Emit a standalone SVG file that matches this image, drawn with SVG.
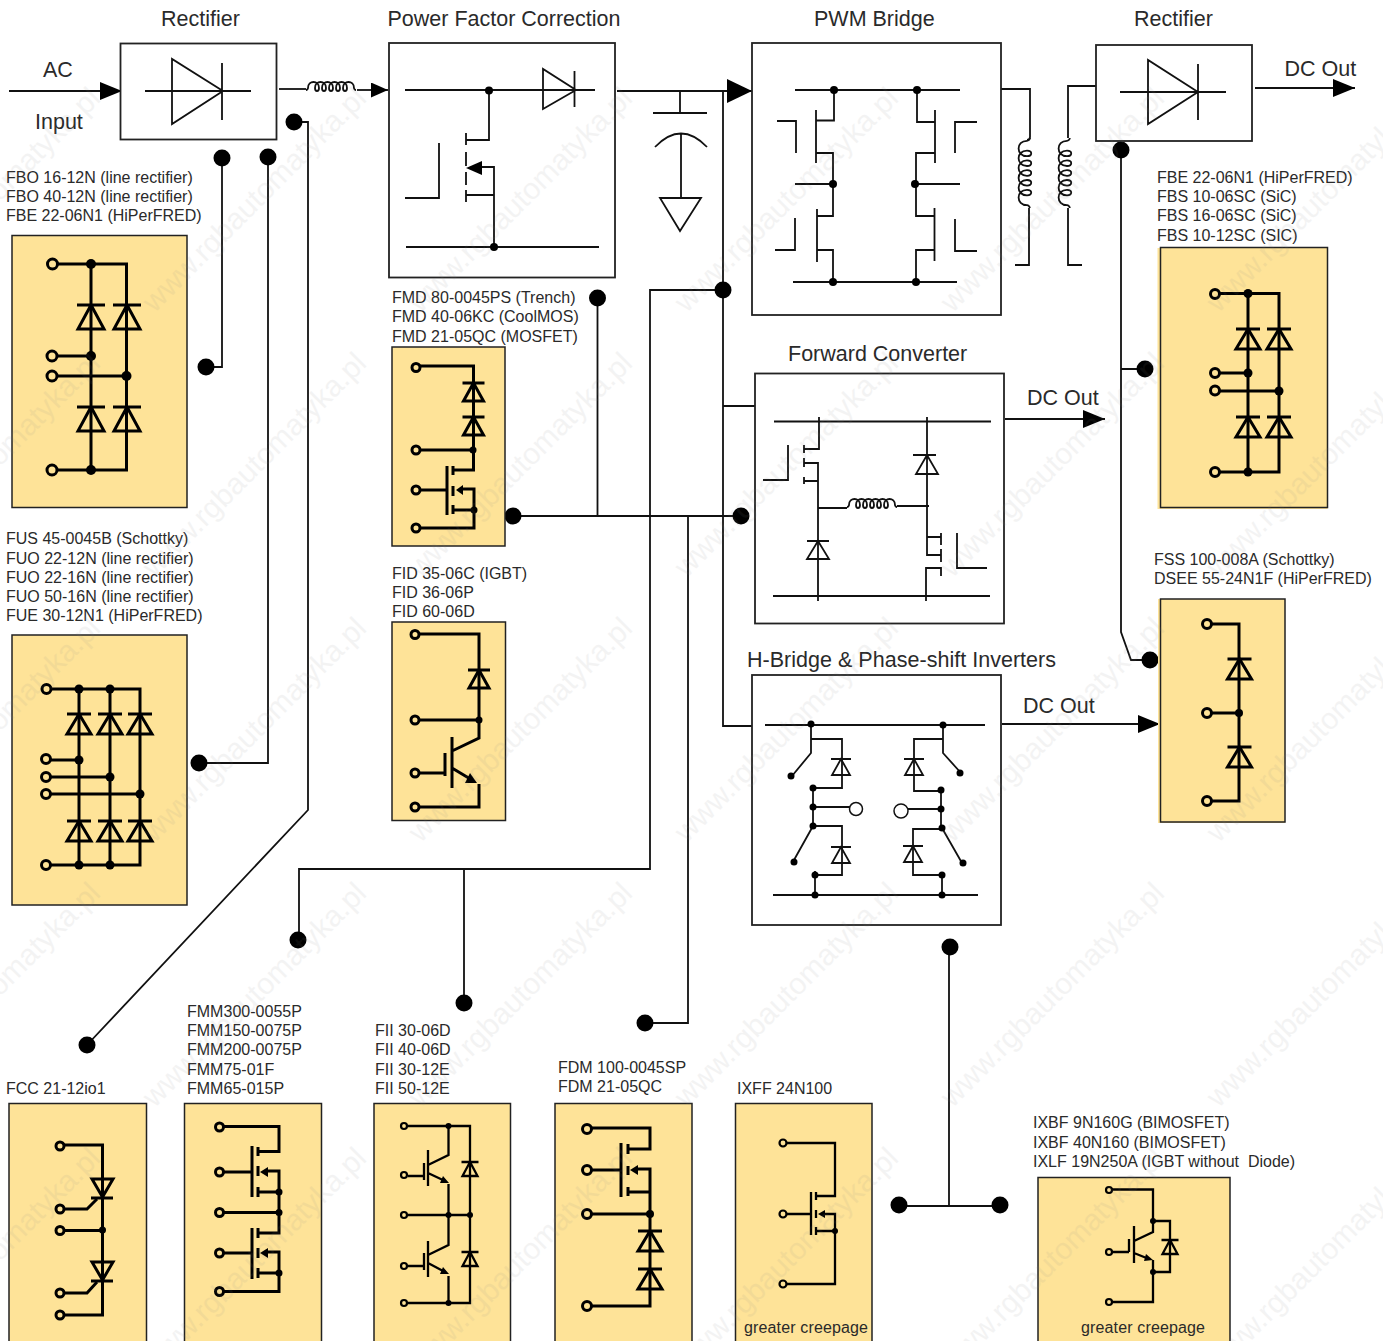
<svg xmlns="http://www.w3.org/2000/svg" width="1383" height="1341" viewBox="0 0 1383 1341">
<style>
text{font-family:"Liberation Sans",Arial,sans-serif;fill:#2a2a2a}
.h{font-size:21.5px}
.s{font-size:16px}
.wm{font-size:30px;fill:#888;opacity:.09;text-anchor:end}
.w{fill:none;stroke:#111;stroke-width:1.8;stroke-linejoin:miter}
.b{fill:#fff;stroke:#222;stroke-width:1.8}
.m{fill:#fee398;stroke:#222;stroke-width:1.5}
.k{fill:none;stroke:#000;stroke-width:3;stroke-linejoin:miter}
.k2{fill:none;stroke:#000;stroke-width:2.3}
.t{fill:#fee398;stroke:#000;stroke-width:3}
.t2{fill:#fee398;stroke:#000;stroke-width:2.2}
.f{fill:#000;stroke:none}
</style>
<defs>
<marker id="arr" markerUnits="userSpaceOnUse" markerWidth="22" markerHeight="18" refX="22" refY="9" orient="auto"><path d="M0,0L22,9L0,18Z" fill="#000"/></marker>
<marker id="arrS" markerUnits="userSpaceOnUse" markerWidth="17" markerHeight="15" refX="17" refY="7.500" orient="auto"><path d="M0,0L17,7.500L0,15Z" fill="#000"/></marker>
<marker id="arrL" markerUnits="userSpaceOnUse" markerWidth="25" markerHeight="24" refX="25" refY="12" orient="auto"><path d="M0,0L25,12L0,24Z" fill="#000"/></marker>
<path id="d14" d="M-14,0H14M0,0L-13,24H13Z"/>
<path id="d12" d="M-12,0H12M0,0L-12,20H12Z"/>
<path id="d11" d="M-11,0H11M0,0L-10,18H10Z"/>
<path id="d9" d="M-10,0H10M0,0L-9,16H9Z"/>
<path id="d8" d="M-8.500,0H8.500M0,0L-7.500,14H7.500Z"/>
<path id="coil" d="M0,2c1,0 2,-1 2,-2c0,-8 11,-8 11,0c0,4 -4,4 -4,0c0,-8 11,-8 11,0c0,4 -4,4 -4,0c0,-8 11,-8 11,0c0,4 -4,4 -4,0c0,-8 11,-8 11,0c0,4 -4,4 -4,0c0,-8 11,-8 11,0c0,4 -4,4 -4,0c0,-8 11,-8 11,0c0,1 1,2 2,2"/>
</defs>

<g id="connectors">
<path class="w" d="M9,91H122" marker-end="url(#arr)"/>
<path class="w" d="M279,89H306"/>
<use href="#coil" class="w" x="306" y="88"/>
<path class="w" d="M357,90H388" marker-end="url(#arrS)"/>
<path class="w" d="M294,122H308V810L87,1045"/>
<path class="w" d="M222,158V367H206"/>
<path class="w" d="M268,157V763H199"/>
<path class="w" d="M617,91H752" marker-end="url(#arrL)"/>
<path class="w" d="M723,91V726H752M723,406H755"/>
<path class="w" d="M680,91V113M653,113H707M655,147Q681,120 707,147M681,134V198M660,198H701L680,231Z"/>
<path class="w" d="M723,290H650V869H299V940M464,869V1003"/>
<path class="w" d="M513,516H741M597.500,298V516M688,516V1023H645"/>
<path class="w" d="M1001,89H1030V137Q1030,140 1027,140M1029,208V265H1015"/>
<use href="#coil" class="w" transform="translate(1027,138) rotate(90) scale(1.4,-1.400)" style="stroke-width:1.300"/>
<path class="w" d="M1096,86H1068V138M1068,208V265H1082"/>
<use href="#coil" class="w" transform="translate(1067,138) rotate(90) scale(1.4,-1.400)" style="stroke-width:1.300"/>
<path class="w" d="M1255,88H1355" marker-end="url(#arr)"/>
<path class="w" d="M1005,419H1105" marker-end="url(#arr)"/>
<path class="w" d="M1002,724H1160" marker-end="url(#arr)"/>
<path class="w" d="M1121,150V632L1131,660H1150M1121,369H1145"/>
<path class="w" d="M949,947V1206M899,1206H1001"/>
<g class="f">
<circle cx="294" cy="122" r="8.500"/><circle cx="222" cy="158" r="8.500"/><circle cx="268" cy="157" r="8.500"/>
<circle cx="206" cy="367" r="8.500"/><circle cx="199" cy="763" r="8.500"/><circle cx="87" cy="1045" r="8.500"/>
<circle cx="723" cy="290" r="8.500"/><circle cx="597.500" cy="298" r="8.500"/><circle cx="513" cy="516" r="8.500"/>
<circle cx="741" cy="516" r="8.500"/><circle cx="298" cy="940" r="8.500"/><circle cx="464" cy="1003" r="8.500"/>
<circle cx="645" cy="1023" r="8.500"/><circle cx="1121" cy="150" r="8.500"/><circle cx="1145" cy="369" r="8.500"/>
<circle cx="1150" cy="660" r="8.500"/><circle cx="950" cy="947" r="8.500"/><circle cx="899" cy="1205" r="8.500"/><circle cx="1000" cy="1205" r="8.500"/>
</g>
</g>

<g id="input-labels"><text class="h" x="43" y="77">AC</text><text class="h" x="35" y="129">Input</text></g>

<g id="rectifier-in">
<text class="h" x="161" y="26">Rectifier</text>
<rect class="b" x="120.500" y="43.500" width="156" height="96"/>
<path class="w" d="M145,91H251M222,63V120M172,59V124L223,91Z"/>
</g>

<g id="pfc">
<text class="h" x="387.500" y="26">Power Factor Correction</text>
<rect class="b" x="389" y="43" width="226" height="234.500"/>
<path class="w" d="M405,90H595M489,90V140H466M466,133V145M466,152V166M466,172V185M466,190V202M543,69V109L576,90ZM574.500,71V107"/>
<path class="w" d="M482,167H494V247M466,195H494M406,247H599M405,198H439V143"/>
<path class="f" d="M466,168L482,161V175Z"/>
<circle class="f" cx="489" cy="90.500" r="4"/><circle class="f" cx="494" cy="247" r="4"/>
</g>

<g id="pwm-bridge">
<text class="h" x="814" y="26">PWM Bridge</text>
<rect class="b" x="752" y="43" width="249" height="272"/>
<path class="w" d="M795,90H960M834,90V120.500H816M816,110V163M816,153H833V216H817M817,209V262M817,250H833V282M795,184H833M777,121H796V153M775,250H795V218M793,282H957"/>
<path class="w" d="M917,90V122H935M935,110V163M935,153H916V216H934.500M934.500,208V261M934.500,250H916V282M915,184H960M977,122H955V153M977,251H955V219"/>
<g class="f"><circle cx="834" cy="90" r="4"/><circle cx="917" cy="90" r="4"/><circle cx="833" cy="184" r="4"/><circle cx="915" cy="184" r="4"/><circle cx="833" cy="282" r="4"/><circle cx="916" cy="282" r="4"/></g>
</g>

<g id="rectifier-out">
<text class="h" x="1134" y="26">Rectifier</text>
<rect class="b" x="1096" y="45" width="156" height="96"/>
<path class="w" d="M1120,92H1226M1198,64V120M1148,60V124L1198,92Z"/>
<text class="h" x="1284.500" y="76">DC Out</text>
</g>

<g id="forward-converter">
<text class="h" x="788" y="361">Forward Converter</text>
<rect class="b" x="755" y="373.500" width="249" height="250"/>
<path class="w" d="M774,421.500H991M773,596H990M819,417V449H804M804,445V453M804,458V467M804,463H818V601M804,477V484M804,481H818M763,480H788V445M818,508H847M897,506H929"/>
<use href="#coil" class="w" x="847" y="505"/>
<path class="w" d="M807,559H829L818,541ZM807,541H829M927,417V537H941M913,455H936M916,474H938L927,455ZM941,533V545M927,537V555H941M941,549V562M941,568H926V601M941,567V576M957,533V568H987"/>
<text class="h" x="1027" y="405">DC Out</text>
</g>

<g id="h-bridge">
<text class="h" x="747" y="667" textLength="309">H-Bridge &amp; Phase-shift Inverters</text>
<rect class="b" x="752" y="675" width="249" height="250"/>
<path class="w" d="M765,725H985M773,895H978"/>
<path class="w" d="M811,724V753L792,776M811,739H842V788H813M813,785V826M813,807H850M813,826L794,860M813,826H842V875H815M815,871V895"/>
<path class="w" d="M943,725V753L961,773M943,739H914V791H941M941,787V828M941,809H908M942,828L962,863M942,829H913V875H942V895"/>
<use href="#d9" class="w" x="841" y="759"/><use href="#d9" class="w" x="841" y="847"/><use href="#d9" class="w" x="914" y="759"/><use href="#d9" class="w" x="913" y="846"/>
<g class="f"><circle cx="811" cy="724" r="3.500"/><circle cx="943" cy="725" r="3.500"/><circle cx="791" cy="776" r="3.500"/><circle cx="813" cy="788" r="3.500"/><circle cx="813" cy="807" r="3.500"/><circle cx="813" cy="826" r="3.500"/><circle cx="794" cy="862" r="3.500"/><circle cx="815" cy="875" r="3.500"/><circle cx="815" cy="895" r="3.500"/><circle cx="960" cy="773" r="3.500"/><circle cx="941" cy="790" r="3.500"/><circle cx="941" cy="809" r="3.500"/><circle cx="942" cy="828" r="3.500"/><circle cx="963" cy="863" r="3.500"/><circle cx="942" cy="875" r="3.500"/><circle cx="942" cy="895" r="3.500"/></g>
<circle cx="856" cy="809" r="6.500" fill="#fff" stroke="#111" stroke-width="1.500"/><circle cx="901" cy="811" r="7" fill="#fff" stroke="#111" stroke-width="1.500"/>
<text class="h" x="1023" y="713">DC Out</text>
</g>

<g id="module-fbo">
<text class="s" x="6" y="183">FBO 16-12N (line rectifier)</text><text class="s" x="6" y="202">FBO 40-12N (line rectifier)</text><text class="s" x="6" y="221">FBE 22-06N1 (HiPerFRED)</text>
<rect class="m" x="12" y="235.500" width="175" height="272"/>
<path class="k" d="M57,264H126.500V470H57M91,264V470M57,356H91M57,376H126.500"/>
<use href="#d14" class="k" x="91" y="305"/><use href="#d14" class="k" x="127" y="305"/><use href="#d14" class="k" x="91" y="407"/><use href="#d14" class="k" x="127" y="407"/>
<g class="f"><circle cx="91" cy="264" r="5"/><circle cx="91" cy="356" r="5"/><circle cx="126.500" cy="376" r="5"/><circle cx="91" cy="470" r="5"/></g>
<g class="t"><circle cx="52.500" cy="264" r="5"/><circle cx="52" cy="356" r="5"/><circle cx="52" cy="376" r="5"/><circle cx="52" cy="470" r="5"/></g>
</g>

<g id="module-fus">
<text class="s" x="6" y="544">FUS 45-0045B (Schottky)</text><text class="s" x="6" y="564">FUO 22-12N (line rectifier)</text><text class="s" x="6" y="583">FUO 22-16N (line rectifier)</text><text class="s" x="6" y="602">FUO 50-16N (line rectifier)</text><text class="s" x="6" y="621">FUE 30-12N1 (HiPerFRED)</text>
<rect class="m" x="12" y="635" width="175" height="270"/>
<path class="k" d="M50,689H140V865H50M79,689V865M110,689V865M50,760H79M50,777H110M50,794H140"/>
<use href="#d12" class="k" x="79" y="714"/><use href="#d12" class="k" x="110" y="714"/><use href="#d12" class="k" x="140" y="714"/><use href="#d12" class="k" x="79" y="821"/><use href="#d12" class="k" x="110" y="821"/><use href="#d12" class="k" x="140" y="821"/>
<g class="f"><circle cx="79" cy="689" r="4.500"/><circle cx="110" cy="689" r="4.500"/><circle cx="79" cy="760" r="4.500"/><circle cx="110" cy="777" r="4.500"/><circle cx="140" cy="794" r="4.500"/><circle cx="79" cy="865" r="4.500"/><circle cx="110" cy="865" r="4.500"/></g>
<g class="t"><circle cx="46.500" cy="689" r="4.500"/><circle cx="46" cy="759" r="4.500"/><circle cx="46" cy="777" r="4.500"/><circle cx="46" cy="794" r="4.500"/><circle cx="46" cy="865" r="4.500"/></g>
</g>

<g id="module-fbe">
<text class="s" x="1157" y="183">FBE 22-06N1 (HiPerFRED)</text><text class="s" x="1157" y="202">FBS 10-06SC (SiC)</text><text class="s" x="1157" y="221">FBS 16-06SC (SiC)</text><text class="s" x="1157" y="241">FBS 10-12SC (SIC)</text>
<rect x="1157.500" y="248" width="170" height="261" fill="#fee398"/>
<rect class="m" style="fill:none" x="1160.500" y="247.500" width="167" height="260"/>
<path class="k" d="M1219,293.500H1279V472H1219M1248,293.500V472M1219,373H1248M1219,391H1279"/>
<use href="#d12" class="k" x="1248" y="329"/><use href="#d12" class="k" x="1279" y="329"/><use href="#d12" class="k" x="1248" y="417"/><use href="#d12" class="k" x="1279" y="417"/>
<g class="f"><circle cx="1248" cy="293.500" r="4.500"/><circle cx="1248" cy="373" r="4.500"/><circle cx="1279" cy="391" r="4.500"/><circle cx="1248" cy="472" r="4.500"/></g>
<g class="t"><circle cx="1215" cy="294" r="4.500"/><circle cx="1215" cy="373" r="4.500"/><circle cx="1215" cy="390.500" r="4.500"/><circle cx="1215" cy="472" r="4.500"/></g>
</g>

<g id="module-fss">
<text class="s" x="1154" y="565">FSS 100-008A (Schottky)</text><text class="s" x="1154" y="584">DSEE 55-24N1F (HiPerFRED)</text>
<rect x="1158" y="599" width="127" height="224" fill="#fee398"/>
<rect class="m" style="fill:none" x="1160.500" y="599" width="124.500" height="223"/>
<path class="k" d="M1211,624H1239V801H1211M1211,713H1239"/>
<use href="#d12" class="k" x="1239.500" y="659"/><use href="#d12" class="k" x="1239.500" y="747"/>
<circle class="f" cx="1239" cy="713" r="4"/>
<g class="t"><circle cx="1207" cy="624" r="4.500"/><circle cx="1207" cy="713" r="4.500"/><circle cx="1207" cy="801" r="4.500"/></g>
</g>

<g id="module-fmd">
<text class="s" x="392" y="303">FMD 80-0045PS (Trench)</text><text class="s" x="392" y="322">FMD 40-06KC (CoolMOS)</text><text class="s" x="392" y="342">FMD 21-05QC (MOSFET)</text>
<rect class="m" x="392" y="347" width="113" height="199"/>
<path class="k" d="M420,366H473.500V470H453M420,450H473.500M420,490H447M447,466V515M453,466V475M453,486V496M453,505V514M462,489H474V528H420M453,510H474"/>
<path class="f" d="M456,490L463,485V495Z"/>
<use href="#d11" class="k" x="473.500" y="383"/><use href="#d11" class="k" x="473.500" y="417"/>
<circle class="f" cx="473" cy="450" r="3.500"/><circle class="f" cx="474" cy="510" r="3.500"/>
<g class="t"><circle cx="416" cy="367.500" r="4"/><circle cx="416" cy="450" r="4"/><circle cx="416" cy="490" r="4"/><circle cx="416" cy="528" r="4"/></g>
</g>

<g id="module-fid">
<text class="s" x="392" y="579">FID 35-06C (IGBT)</text><text class="s" x="392" y="598">FID 36-06P</text><text class="s" x="392" y="617">FID 60-06D</text>
<rect class="m" x="392" y="622" width="113.500" height="198.500"/>
<path class="k" d="M419,634H479V738L452,751M419,720H479M452,737V788M445,753V776M419,773H445M452,768L472,780M479,784V807H419"/>
<path class="f" d="M477,783L465,783L470,773Z"/>
<use href="#d11" class="k" x="479" y="670"/>
<circle class="f" cx="479" cy="720" r="3.500"/>
<g class="t"><circle cx="415" cy="634.500" r="4"/><circle cx="415" cy="720" r="4"/><circle cx="415" cy="773" r="4"/><circle cx="415" cy="807" r="4"/></g>
</g>

<g id="module-fcc">
<text class="s" x="6" y="1094">FCC 21-12io1</text>
<rect class="m" x="9" y="1103.500" width="137.500" height="245"/>
<path class="k" d="M64,1145H102.500V1315H64M64,1230.500H102M64,1209H87L97,1199M64,1293H87L97,1282"/>
<path class="k" d="M92,1179H113L102.500,1197ZM91,1198H113M92,1262H113L102.500,1280ZM91,1281H113"/>
<circle class="f" cx="102.500" cy="1230" r="3.500"/>
<g class="t"><circle cx="60" cy="1146" r="4"/><circle cx="60" cy="1209" r="4"/><circle cx="60" cy="1230.500" r="4"/><circle cx="60" cy="1293" r="4"/><circle cx="60" cy="1315" r="4"/></g>
</g>

<g id="module-fmm">
<text class="s" x="187" y="1017" style="word-spacing:-4.300px">FMM 300-0055P</text><text class="s" x="187" y="1036" style="word-spacing:-4.300px">FMM 150-0075P</text><text class="s" x="187" y="1055" style="word-spacing:-4.300px">FMM 200-0075P</text><text class="s" x="187" y="1075" style="word-spacing:-4.300px">FMM 75-01F</text><text class="s" x="187" y="1094" style="word-spacing:-4.300px">FMM 65-015P</text>
<rect class="m" x="184.500" y="1103.500" width="137" height="245"/>
<path class="k" d="M223,1126.500H279V1151.500H258M258,1147V1156M252,1146V1197M223,1172H252M258,1166V1176M268,1171H279V1233H258M258,1187V1197M258,1192H279M223,1212.500H279M252,1228V1279M258,1228V1238M223,1253H252M258,1248V1258M268,1252H279V1291.500H223M258,1273H279M258,1268V1278"/>
<path class="f" d="M260,1172L268,1167V1177ZM260,1253L268,1248V1258Z"/>
<g class="f"><circle cx="279" cy="1192" r="3.500"/><circle cx="279" cy="1212.500" r="3.500"/><circle cx="279" cy="1273" r="3.500"/></g>
<g class="t"><circle cx="219.500" cy="1127" r="4"/><circle cx="219.500" cy="1172" r="4"/><circle cx="219.500" cy="1212.500" r="4"/><circle cx="219.500" cy="1253" r="4"/><circle cx="219.500" cy="1291.500" r="4"/></g>
</g>

<g id="module-fii">
<text class="s" x="375" y="1036">FII 30-06D</text><text class="s" x="375" y="1055">FII 40-06D</text><text class="s" x="375" y="1075">FII 30-12E</text><text class="s" x="375" y="1094">FII 50-12E</text>
<rect class="m" x="374" y="1103.500" width="136.500" height="245"/>
<path class="k2" d="M408,1126H470V1303H408M408,1215H470M448.500,1126V1155L428,1165M428,1150V1186M424,1163V1180M408,1176H424M428,1173L445,1181M448.500,1184V1245L428,1255M428,1241V1277M424,1253V1270M408,1266H424M428,1263L445,1272M448.500,1276V1303"/>
<path class="f" d="M449,1183L440,1183L443,1176ZM449,1274L440,1274L443,1267Z"/>
<use href="#d8" class="k2" x="470" y="1162"/><use href="#d8" class="k2" x="470" y="1252"/>
<g class="f"><circle cx="448.500" cy="1126" r="3"/><circle cx="448.500" cy="1215" r="3"/><circle cx="470" cy="1215" r="3"/><circle cx="448.500" cy="1303" r="3"/></g>
<g class="t2"><circle cx="404" cy="1126" r="3"/><circle cx="404" cy="1175" r="3"/><circle cx="404" cy="1215" r="3"/><circle cx="404" cy="1266" r="3"/><circle cx="404" cy="1303" r="3"/></g>
</g>

<g id="module-fdm">
<text class="s" x="558" y="1073">FDM 100-0045SP</text><text class="s" x="558" y="1092">FDM 21-05QC</text>
<rect class="m" x="555" y="1103.500" width="137" height="245"/>
<path class="k" d="M591,1128H650V1149H628M628,1144V1154M621,1143V1197M591,1170H621M628,1166V1175M638,1169H650V1306H591M628,1192H650M628,1187V1196M591,1214H650"/>
<path class="f" d="M630,1170L638,1165V1175Z"/>
<use href="#d12" class="k" x="650" y="1231"/><use href="#d12" class="k" x="650" y="1269"/>
<circle class="f" cx="650" cy="1214" r="4"/>
<g class="t"><circle cx="587" cy="1129" r="4.500"/><circle cx="587" cy="1170" r="4.500"/><circle cx="587" cy="1214" r="4.500"/><circle cx="587" cy="1306" r="4.500"/></g>
</g>

<g id="module-ixff">
<text class="s" x="737" y="1094">IXFF 24N100</text>
<rect class="m" x="735.500" y="1103.500" width="136.500" height="245"/>
<path class="k2" d="M787,1143H835V1196H816M816,1192V1200M811,1192V1235M787,1214H811M816,1210V1218M825,1214H835V1284H787M816,1231H835M816,1227V1235"/>
<path class="f" d="M818,1214L825,1210V1218Z"/>
<circle class="f" cx="835" cy="1231" r="3"/>
<g class="t2"><circle cx="783" cy="1143" r="3.500"/><circle cx="783" cy="1214" r="3.500"/><circle cx="783" cy="1284" r="3.500"/></g>
<text class="s" x="744" y="1333" textLength="124">greater creepage</text>
</g>

<g id="module-ixbf">
<text class="s" x="1033" y="1128">IXBF 9N160G (BIMOSFET)</text><text class="s" x="1033" y="1148">IXBF 40N160 (BIMOSFET)</text><text class="s" x="1033" y="1167" xml:space="preserve">IXLF 19N250A (IGBT without  Diode)</text>
<rect class="m" x="1038" y="1177.500" width="192" height="171"/>
<path class="k2" d="M1112,1189.500H1153V1232L1134,1241M1153,1221H1170V1272H1153M1134,1226V1263M1129,1239V1252M1112,1252H1129M1134,1253L1149,1259M1153,1260V1302H1112"/>
<path class="f" d="M1153,1260L1144,1261L1146,1254Z"/>
<use href="#d8" class="k2" x="1170" y="1240"/>
<circle class="f" cx="1153" cy="1221" r="3"/><circle class="f" cx="1153" cy="1272" r="3"/>
<g class="t2"><circle cx="1109" cy="1190" r="3"/><circle cx="1109" cy="1252" r="3"/><circle cx="1109" cy="1302" r="3"/></g>
<text class="s" x="1081" y="1333" textLength="124">greater creepage</text>
</g>

<g id="watermark">
<text class="wm" transform="translate(102,100) rotate(-45)">www.rgbautomatyka.pl</text>
<text class="wm" transform="translate(368,100) rotate(-45)">www.rgbautomatyka.pl</text>
<text class="wm" transform="translate(634,100) rotate(-45)">www.rgbautomatyka.pl</text>
<text class="wm" transform="translate(900,100) rotate(-45)">www.rgbautomatyka.pl</text>
<text class="wm" transform="translate(1166,100) rotate(-45)">www.rgbautomatyka.pl</text>
<text class="wm" transform="translate(1432,100) rotate(-45)">www.rgbautomatyka.pl</text>
<text class="wm" transform="translate(102,365) rotate(-45)">www.rgbautomatyka.pl</text>
<text class="wm" transform="translate(368,365) rotate(-45)">www.rgbautomatyka.pl</text>
<text class="wm" transform="translate(634,365) rotate(-45)">www.rgbautomatyka.pl</text>
<text class="wm" transform="translate(900,365) rotate(-45)">www.rgbautomatyka.pl</text>
<text class="wm" transform="translate(1166,365) rotate(-45)">www.rgbautomatyka.pl</text>
<text class="wm" transform="translate(1432,365) rotate(-45)">www.rgbautomatyka.pl</text>
<text class="wm" transform="translate(102,630) rotate(-45)">www.rgbautomatyka.pl</text>
<text class="wm" transform="translate(368,630) rotate(-45)">www.rgbautomatyka.pl</text>
<text class="wm" transform="translate(634,630) rotate(-45)">www.rgbautomatyka.pl</text>
<text class="wm" transform="translate(900,630) rotate(-45)">www.rgbautomatyka.pl</text>
<text class="wm" transform="translate(1166,630) rotate(-45)">www.rgbautomatyka.pl</text>
<text class="wm" transform="translate(1432,630) rotate(-45)">www.rgbautomatyka.pl</text>
<text class="wm" transform="translate(102,895) rotate(-45)">www.rgbautomatyka.pl</text>
<text class="wm" transform="translate(368,895) rotate(-45)">www.rgbautomatyka.pl</text>
<text class="wm" transform="translate(634,895) rotate(-45)">www.rgbautomatyka.pl</text>
<text class="wm" transform="translate(900,895) rotate(-45)">www.rgbautomatyka.pl</text>
<text class="wm" transform="translate(1166,895) rotate(-45)">www.rgbautomatyka.pl</text>
<text class="wm" transform="translate(1432,895) rotate(-45)">www.rgbautomatyka.pl</text>
<text class="wm" transform="translate(102,1160) rotate(-45)">www.rgbautomatyka.pl</text>
<text class="wm" transform="translate(368,1160) rotate(-45)">www.rgbautomatyka.pl</text>
<text class="wm" transform="translate(634,1160) rotate(-45)">www.rgbautomatyka.pl</text>
<text class="wm" transform="translate(900,1160) rotate(-45)">www.rgbautomatyka.pl</text>
<text class="wm" transform="translate(1166,1160) rotate(-45)">www.rgbautomatyka.pl</text>
<text class="wm" transform="translate(1432,1160) rotate(-45)">www.rgbautomatyka.pl</text>
<text class="wm" transform="translate(368,1425) rotate(-45)">www.rgbautomatyka.pl</text>
<text class="wm" transform="translate(634,1425) rotate(-45)">www.rgbautomatyka.pl</text>
<text class="wm" transform="translate(900,1425) rotate(-45)">www.rgbautomatyka.pl</text>
<text class="wm" transform="translate(1166,1425) rotate(-45)">www.rgbautomatyka.pl</text>
<text class="wm" transform="translate(1432,1425) rotate(-45)">www.rgbautomatyka.pl</text>
</g>
</svg>
